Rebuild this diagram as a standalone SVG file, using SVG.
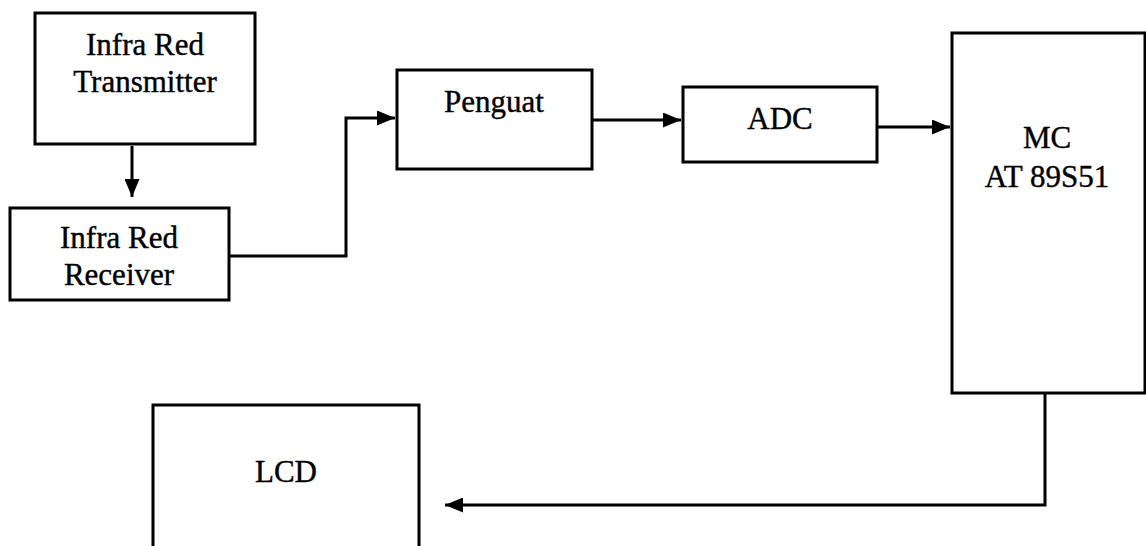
<svg xmlns="http://www.w3.org/2000/svg" width="1146" height="546" viewBox="0 0 1146 546">
<defs>
<marker id="ah" markerWidth="6" markerHeight="5" refX="6" refY="2.5" orient="auto" markerUnits="strokeWidth">
<path d="M0,0 L6,2.5 L0,5 Z" fill="#000"/>
</marker>
<style>
.box{fill:#fff;stroke:#000;stroke-width:3}
.t{font-family:"Liberation Serif","Times New Roman",serif;font-size:31px;fill:#000;stroke:#000;stroke-width:0.4;text-anchor:middle}
.c{fill:none;stroke:#000;stroke-width:3;marker-end:url(#ah)}
</style>
</defs>
<rect width="1146" height="546" fill="#fff"/>
<g id="tx"><rect class="box" x="35" y="13" width="220" height="131"/><text class="t" x="145" y="55">Infra Red</text><text class="t" x="145" y="92">Transmitter</text></g>
<g id="rx"><rect class="box" x="10" y="208" width="219" height="92"/><text class="t" x="119" y="248">Infra Red</text><text class="t" x="119" y="285">Receiver</text></g>
<g id="penguat"><rect class="box" x="397" y="70" width="195" height="99"/><text class="t" x="494" y="112">Penguat</text></g>
<g id="adc"><rect class="box" x="683" y="87" width="194" height="75"/><text class="t" x="780" y="129">ADC</text></g>
<g id="mc"><rect class="box" x="952" y="33" width="193" height="360"/><text class="t" x="1047" y="148">MC</text><text class="t" x="1047" y="187">AT 89S51</text></g>
<g id="lcd"><rect class="box" x="153" y="405" width="266" height="160"/><text class="t" x="286" y="482">LCD</text></g>
<g id="connectors">
<path class="c" d="M132,146 V197"/>
<path class="c" d="M229,256 H346 V118 H395"/>
<path class="c" d="M592,120 H681"/>
<path class="c" d="M877,127 H950"/>
<path class="c" d="M1045,393 V505 H445"/>
</g>
</svg>
